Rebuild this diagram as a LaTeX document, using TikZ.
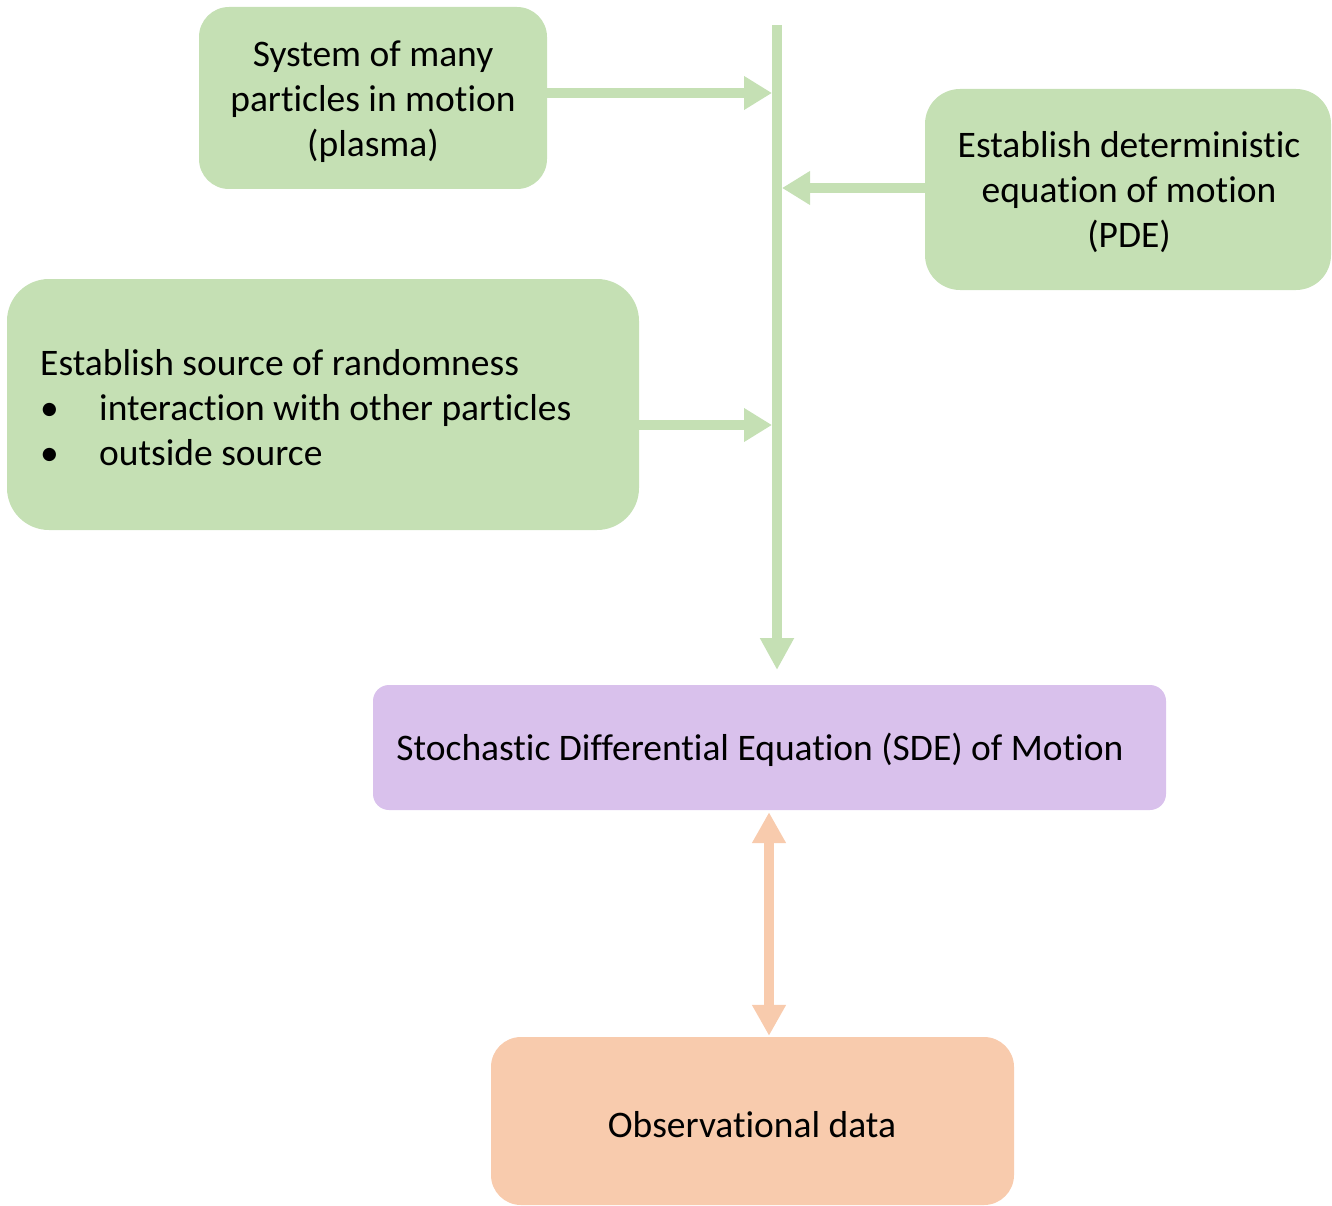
\documentclass[tikz,border=0pt]{standalone}
\usepackage{fontspec}
\setmainfont[Ligatures={NoCommon}]{Carlito}
\usetikzlibrary{arrows.meta}
\definecolor{boxgreen}{HTML}{C5E0B4}
\definecolor{boxpurple}{HTML}{D9C1EC}
\definecolor{boxorange}{HTML}{F8CBAD}
\tikzset{
  bx/.style={rectangle, inner sep=0pt, font=\fontsize{37.5pt}{45pt}\selectfont, align=center, text=black},
  greenbox/.style={bx, fill=boxgreen},
  flow/.style={draw=boxgreen, line width=10pt, -{Triangle[width=32pt,length=28pt]}},
  spine/.style={draw=boxgreen, line width=10pt, -{Triangle[width=32pt,length=32pt]}},
  twoway/.style={draw=boxorange, line width=10.5pt, {Triangle[width=32pt,length=31pt]}-{Triangle[width=32pt,length=31pt]}},
}
\begin{document}
\begin{tikzpicture}[x=1pt,y=-1pt]
\useasboundingbox (0,0) rectangle (1332,1206);
% boxes
\node[greenbox, rounded corners=30pt, minimum width=348pt, minimum height=182pt] (b1) at (373,98) {};
\node[bx] (b1t) at (373,102) {System of many\\particles in motion\\(plasma)};
\node[greenbox, rounded corners=35pt, minimum width=406pt, minimum height=201pt] (b2) at (1128,189.5) {};
\node[bx] (b2t) at (1129,192) {Establish deterministic\\equation of motion\\(PDE)};
\node[greenbox, rounded corners=42pt, minimum width=632pt, minimum height=251pt] (b3) at (323,404.5) {};
\node[bx, align=left, anchor=west] (b3t) at (40,408) {Establish source of randomness\\\makebox[59pt][l]{•}interaction with other particles\\\makebox[59pt][l]{•}outside source};
\node[bx, fill=boxpurple, rounded corners=16pt, minimum width=793pt, minimum height=125pt] (sde) at (769.5,747.5) {};
\node[bx] (sdet) at (760,750) {Stochastic Differential Equation (SDE) of Motion};
\node[bx, fill=boxorange, rounded corners=30pt, minimum width=523pt, minimum height=168pt] (obs) at (752.5,1121) {};
\node[bx] (obst) at (752,1125) {Observational data};
% spine
\coordinate (top) at (777,25);
\coordinate (tip) at (777,670);
\draw[spine] (top) -- (tip);
% connectors into spine
\draw[flow] ([yshift=5pt]b1.east) -- ([yshift=5pt]b1.east -| 772,0);
\draw[flow] ([yshift=1.5pt]b2.west) -- ([yshift=1.5pt]b2.west -| 782,0);
\draw[flow] ([yshift=-20.5pt]b3.east) -- ([yshift=-20.5pt]b3.east -| 772,0);
% two-way arrow
\draw[twoway] ([yshift=-2pt]sde.south -| 769,0) -- ([yshift=1pt]obs.north -| 769,0);
\end{tikzpicture}
\end{document}
